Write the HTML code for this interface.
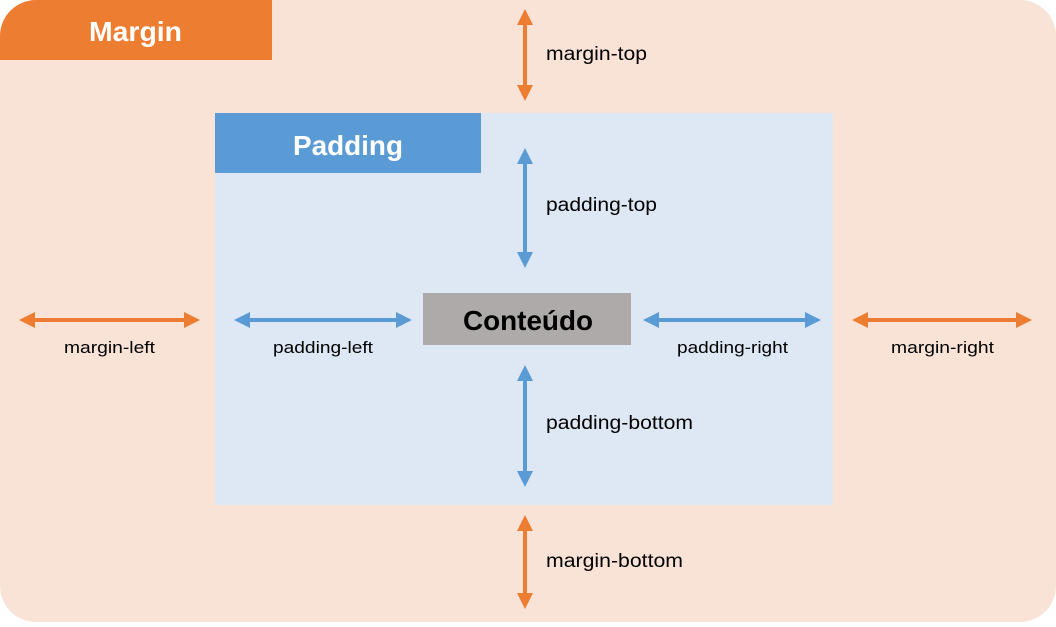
<!DOCTYPE html>
<html><head><style>
body{margin:0;width:1056px;height:622px;overflow:hidden;background:#fff}
svg text{font-family:"Liberation Sans",sans-serif}
</style></head><body>
<svg width="1056" height="622" xmlns="http://www.w3.org/2000/svg">
<defs>
<marker id="ho" markerWidth="4" markerHeight="4" refX="2" refY="2" orient="auto-start-reverse" markerUnits="strokeWidth"><path d="M0,0 L4,2 L0,4z" fill="#ed7d31"/></marker>
<marker id="hb" markerWidth="4" markerHeight="4" refX="2" refY="2" orient="auto-start-reverse" markerUnits="strokeWidth"><path d="M0,0 L4,2 L0,4z" fill="#5b9bd5"/></marker>
</defs>
<rect x="0" y="0" width="1056" height="622" rx="36" fill="#f9e3d6"/>
<path d="M36,0 H272 V60 H0 V36 A36,36 0 0 1 36,0z" fill="#ed7d31"/>
<text x="89" y="41" font-size="28" font-weight="bold" fill="#fff" textLength="93" lengthAdjust="spacingAndGlyphs">Margin</text>
<rect x="215" y="113" width="618" height="392" fill="#dde8f4"/>
<rect x="215" y="113" width="266" height="60" fill="#5b9bd5"/>
<text x="293" y="155" font-size="28" font-weight="bold" fill="#fff" textLength="110" lengthAdjust="spacingAndGlyphs">Padding</text>
<rect x="423" y="293" width="208" height="52" fill="#aeaaa9"/>
<text x="463" y="330" font-size="28" font-weight="bold" fill="#000" textLength="130" lengthAdjust="spacingAndGlyphs">Conteúdo</text>
<g stroke-width="4" fill="none">
<line x1="525" y1="17" x2="525" y2="93" stroke="#ed7d31" marker-start="url(#ho)" marker-end="url(#ho)"/>
<line x1="525" y1="523" x2="525" y2="601" stroke="#ed7d31" marker-start="url(#ho)" marker-end="url(#ho)"/>
<line x1="27" y1="320" x2="192" y2="320" stroke="#ed7d31" marker-start="url(#ho)" marker-end="url(#ho)"/>
<line x1="860" y1="320" x2="1024" y2="320" stroke="#ed7d31" marker-start="url(#ho)" marker-end="url(#ho)"/>
<line x1="525" y1="156" x2="525" y2="260" stroke="#5b9bd5" marker-start="url(#hb)" marker-end="url(#hb)"/>
<line x1="525" y1="373" x2="525" y2="479" stroke="#5b9bd5" marker-start="url(#hb)" marker-end="url(#hb)"/>
<line x1="242" y1="320" x2="404" y2="320" stroke="#5b9bd5" marker-start="url(#hb)" marker-end="url(#hb)"/>
<line x1="651" y1="320" x2="813" y2="320" stroke="#5b9bd5" marker-start="url(#hb)" marker-end="url(#hb)"/>
</g>
<g font-size="19" fill="#000" lengthAdjust="spacingAndGlyphs">
<text x="546" y="60" textLength="101" lengthAdjust="spacingAndGlyphs">margin-top</text>
<text x="546" y="211" textLength="111" lengthAdjust="spacingAndGlyphs">padding-top</text>
<text x="546" y="429" textLength="147" lengthAdjust="spacingAndGlyphs">padding-bottom</text>
<text x="546" y="567" textLength="137" lengthAdjust="spacingAndGlyphs">margin-bottom</text>
</g>
<g font-size="17" fill="#000">
<text x="64" y="353" textLength="91" lengthAdjust="spacingAndGlyphs">margin-left</text>
<text x="273" y="353" textLength="100" lengthAdjust="spacingAndGlyphs">padding-left</text>
<text x="677" y="353" textLength="111" lengthAdjust="spacingAndGlyphs">padding-right</text>
<text x="891" y="353" textLength="103" lengthAdjust="spacingAndGlyphs">margin-right</text>
</g>
</svg>
</body></html>
